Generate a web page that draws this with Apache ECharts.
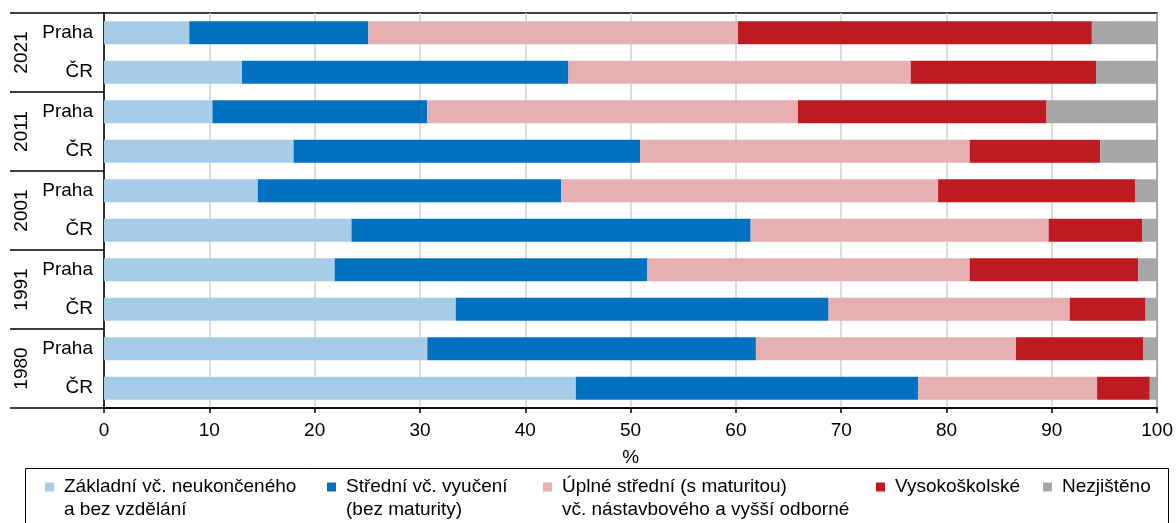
<!DOCTYPE html>
<html><head><meta charset="utf-8">
<script src="https://cdn.jsdelivr.net/npm/echarts@6/dist/echarts.min.js"></script>
<style>html,body{margin:0;padding:0;background:#fff}#c{width:1176px;height:523px}</style>
</head><body><div id="c"></div>
<script>
// ---- data ----
const years = ['2021', '2011', '2001', '1991', '1980'];
const areas = ['Praha', 'ČR'];
const rowKeys = [];
years.forEach(y => areas.forEach(a => rowKeys.push(y + '|' + a)));

const seriesNames = ['Základní vč. neukončeného a bez vzdělání', 'Střední vč. vyučení (bez maturity)',
  'Úplné střední (s maturitou) vč. nástavbového a vyšší odborné', 'Vysokoškolské', 'Nezjištěno'];
const legendLabels = ['Základní vč. neukončeného\na bez vzdělání', 'Střední vč. vyučení\n(bez maturity)',
  'Úplné střední (s maturitou)\nvč. nástavbového a vyšší odborné', 'Vysokoškolské', 'Nezjištěno'];

const zakladni   = [8.1, 13.1, 10.3, 18.0, 14.6, 23.5, 21.9, 33.4, 30.7, 44.8];
const stredni    = [17.0, 31.0, 20.4, 32.9, 28.8, 37.9, 29.7, 35.4, 31.2, 32.5];
const uplne      = [35.1, 32.5, 35.2, 31.3, 35.8, 28.3, 30.6, 22.9, 24.7, 17.0];
const vysoko     = [33.6, 17.6, 23.6, 12.4, 18.7, 8.9, 16.0, 7.2, 12.1, 5.0];
const nezjisteno = [6.2, 5.8, 10.5, 5.4, 2.1, 1.4, 1.8, 1.1, 1.3, 0.7];
const seriesValues = [zakladni, stredni, uplne, vysoko, nezjisteno];

const xTicks = { min: 0, max: 100, interval: 10 };

// ---- styles ----
const colors = ['#a6cde8', '#0070c0', '#e6afb2', '#be1a22', '#a6a6a6'];
const FONT = 'Liberation Sans, Arial, sans-serif';
const FS = 19;
const legendLeft = [45, 327, 543, 876, 1043];

const chart = echarts.init(document.getElementById('c'), null, { renderer: 'canvas' });

const legends = seriesNames.map((n, i) => {
  const twoLine = legendLabels[i].indexOf('\n') >= 0;
  return {
    data: [n],
    left: legendLeft[i],
    top: 475.5,
    padding: 0,
    orient: 'horizontal',
    selectedMode: false,
    icon: twoLine ? 'path://M0 0H9V9H0Z M14 32L14 32' : 'path://M0 0H9V9H0Z M14 9L14 9',
    itemWidth: 14,
    itemHeight: twoLine ? 32 : 9,
    formatter: () => legendLabels[i],
    textStyle: { fontFamily: FONT, fontSize: FS, lineHeight: 23, color: '#000' }
  };
});

const option = {
  animation: false,
  backgroundColor: '#fff',
  textStyle: { fontFamily: FONT },
  grid: { left: 104, right: 16, top: 13, bottom: 115, show: true, borderColor: '#000', borderWidth: 1.5, backgroundColor: 'transparent' },
  xAxis: {
    type: 'value', min: xTicks.min, max: xTicks.max, interval: xTicks.interval,
    name: '%', nameLocation: 'middle', nameGap: 40,
    nameTextStyle: { fontFamily: FONT, fontSize: FS, color: '#000' },
    axisLine: { show: true, lineStyle: { color: '#000', width: 1.5 } },
    axisTick: { show: true, length: 5, lineStyle: { color: '#000', width: 1.5 } },
    axisLabel: { fontFamily: FONT, fontSize: FS, color: '#000', margin: 13 },
    splitLine: { show: true, lineStyle: { color: '#d0d0d0', width: 1.5 } }
  },
  yAxis: [
    {
      type: 'category', data: rowKeys, inverse: true,
      axisLine: { show: true, lineStyle: { color: '#000', width: 1.5 } },
      axisTick: { show: false },
      axisLabel: { fontFamily: FONT, fontSize: FS, color: '#000', margin: 11,
        formatter: v => v.split('|')[1] },
      splitLine: { show: false }
    },
    {
      type: 'category', data: years, inverse: true, position: 'left',
      axisLine: { show: false },
      axisTick: { show: true, length: 94, lineStyle: { color: '#000', width: 1.5 } },
      axisLabel: { fontFamily: FONT, fontSize: FS, color: '#000', rotate: 90, margin: 73 },
      splitLine: { show: false }
    }
  ],
  legend: legends,
  graphic: [{
    type: 'rect', left: 23, top: 466, silent: true,
    shape: { width: 1143, height: 80 },
    style: { fill: 'none', stroke: '#000', lineWidth: 1 }
  }],
  series: seriesNames.map((n, i) => ({
    name: n, type: 'bar', stack: 'total', yAxisIndex: 0,
    data: seriesValues[i],
    barCategoryGap: '42%',
    itemStyle: { color: colors[i] },
    emphasis: { disabled: true }
  }))
};
chart.setOption(option);
</script></body></html>
